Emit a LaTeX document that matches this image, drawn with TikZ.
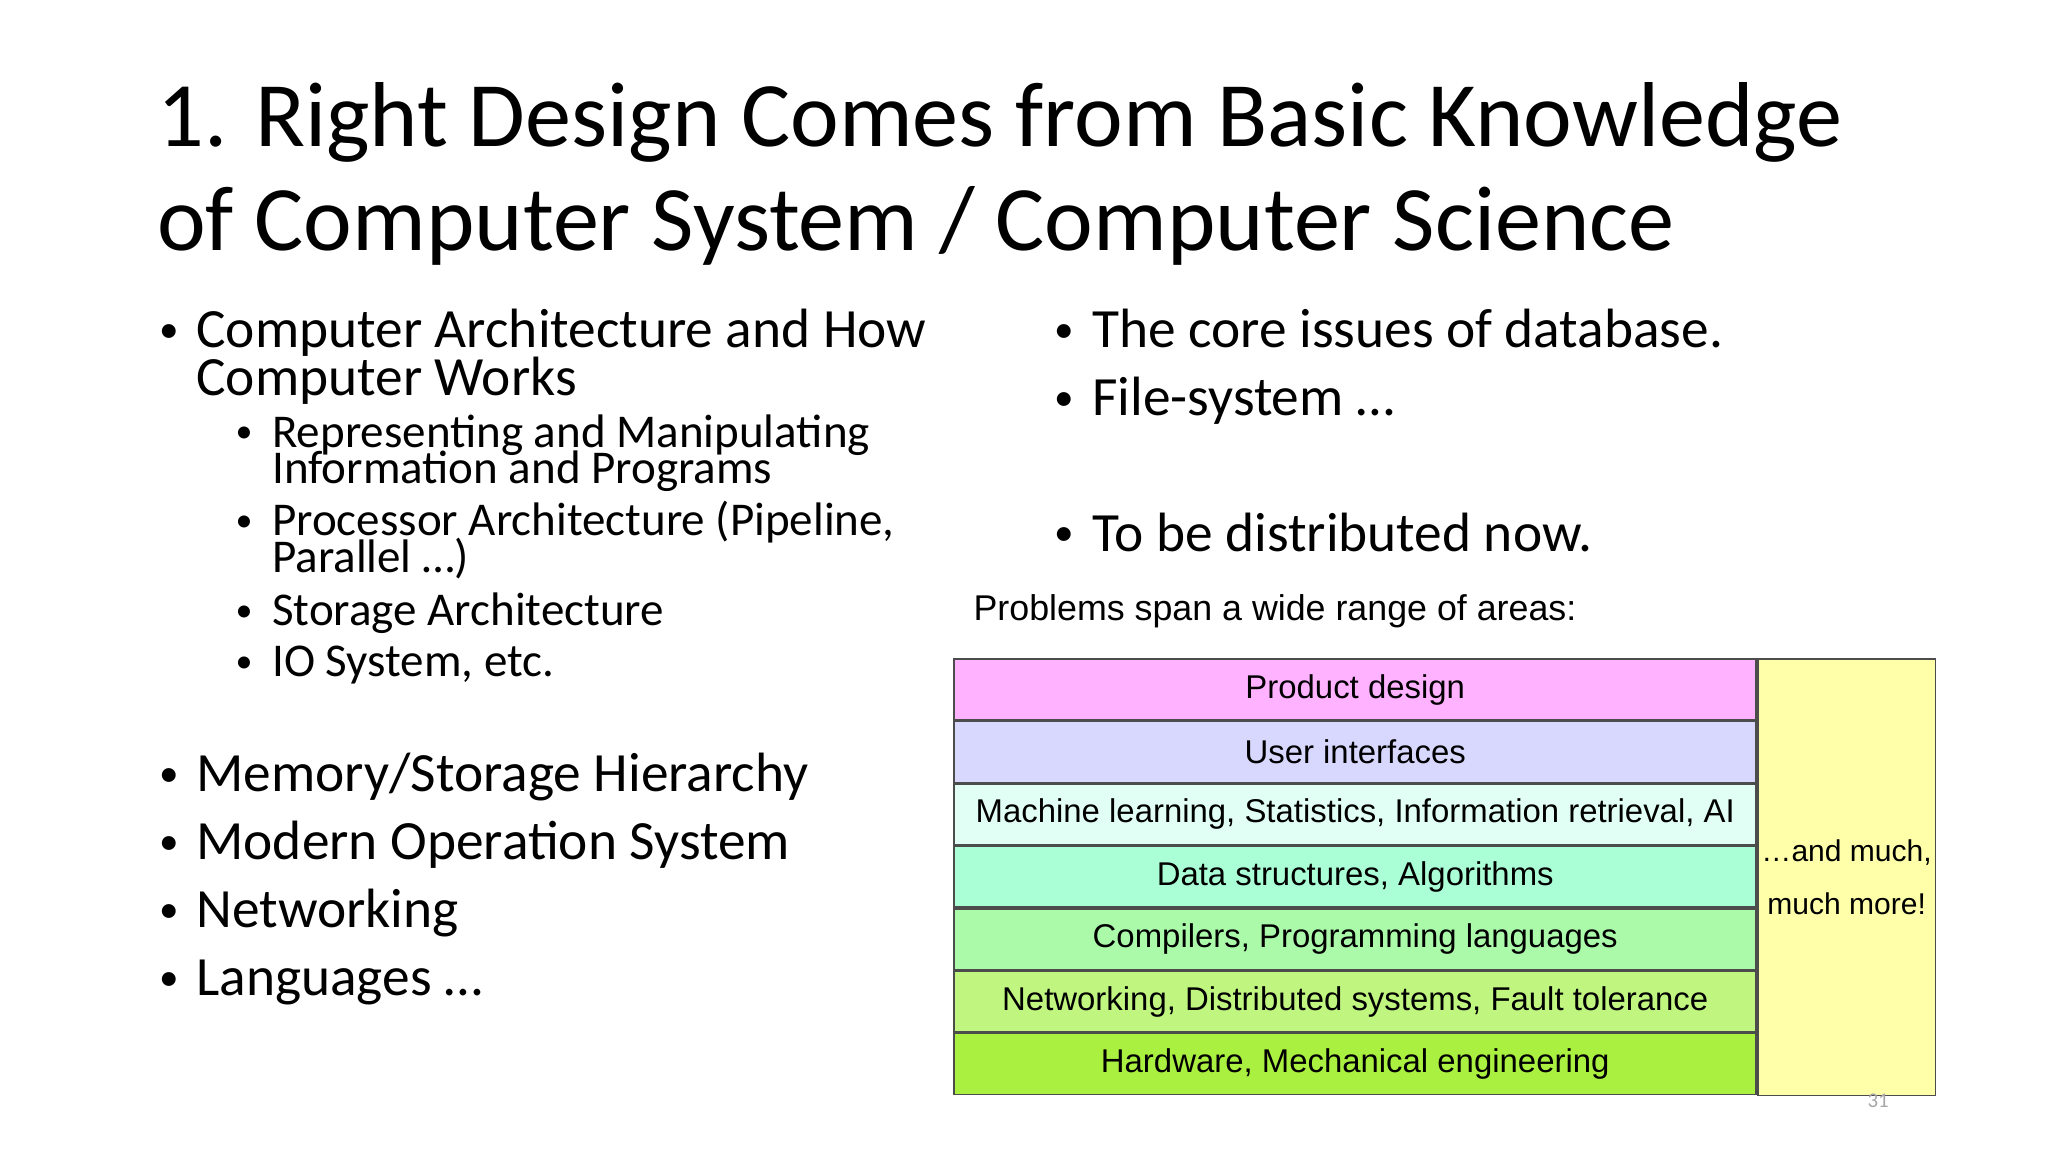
\documentclass[tikz,border=0pt]{standalone}
\usepackage{fontspec}
\setmainfont{Carlito}
\newfontfamily\arial{Liberation Sans}
\begin{document}
\begin{tikzpicture}[x=0.5pt,y=-0.5pt,
  t1/.style={anchor=base west,font=\fontsize{21.2}{18.5}\selectfont,inner sep=0},
  t2/.style={anchor=base west,font=\fontsize{18}{15}\selectfont,inner sep=0},
  d1/.style={anchor=base west,font=\fontsize{15}{15}\selectfont,inner sep=0,yshift=2pt},
  d2/.style={anchor=base west,font=\fontsize{13}{13}\selectfont,inner sep=0,yshift=1.5pt},
  row/.style={draw=black!70,line width=0.6pt,minimum width=307pt,minimum height=23.3pt,inner sep=0,font=\arial\fontsize{12.6}{13}\selectfont,anchor=north west}]
\useasboundingbox (0,0) rectangle (1568,882);
\fill[white] (0,0) rectangle (1568,882);
\node[anchor=base west,inner sep=0,font=\fontsize{35.3}{40}\selectfont,align=left] (title) at (120,192) {1. Right Design Comes from Basic Knowledge\\of Computer System / Computer Science};
% left column
\node[d1] (b1) at (122,266) {•};
\node[t1,align=left] (b1t) at (150,303) {Computer Architecture and How\\Computer Works};
\node[d2] (s1) at (180,342) {•};
\node[t2,align=left] (s1t) at (208,370) {Representing and Manipulating\\[-3pt]Information and Programs};
\node[d2] (s2) at (180,410) {•};
\node[t2,align=left] (s2t) at (208,438) {Processor Architecture (Pipeline,\\[-3pt]Parallel …)};
\node[d2] (s3) at (180,479) {•};
\node[t2] (s3t) at (208,479) {Storage Architecture};
\node[d2] (s4) at (180,518) {•};
\node[t2] (s4t) at (208,518) {IO System, etc.};
\foreach \y/\txt [count=\i] in {606/{Memory/Storage Hierarchy},658/{Modern Operation System},710/{Networking},762/{Languages …}}{
  \node[d1] (m\i) at (122,\y) {•};
  \node[t1] (mt\i) at (150,\y) {\txt};
}
% right column
\node[d1] (r1) at (807,266) {•};
\node[t1] (r1t) at (836,266) {The core issues of database.};
\node[d1] (r2) at (807,318) {•};
\node[t1] (r2t) at (836,318) {File-system …};
\node[d1] (r3) at (807,422) {•};
\node[t1] (r3t) at (836,422) {To be distributed now.};
\node[anchor=base west,inner sep=0,font=\arial\fontsize{13.7}{14}\selectfont] (cap) at (745,475) {Problems span a wide range of areas:};
% table
\node[row,fill={rgb,255:red,255;green,178;blue,255}] (p1) at (730,504) {Product design};
\node[row,fill={rgb,255:red,216;green,216;blue,255}] (p2) at (p1.south west) {User interfaces};
\node[row,fill={rgb,255:red,226;green,255;blue,246}] (p3) at (p2.south west) {Machine learning, Statistics, Information retrieval, AI};
\node[row,fill={rgb,255:red,170;green,255;blue,214}] (p4) at (p3.south west) {Data structures, Algorithms};
\node[row,fill={rgb,255:red,170;green,250;blue,170}] (p5) at (p4.south west) {Compilers, Programming languages};
\node[row,fill={rgb,255:red,192;green,246;blue,128}] (p6) at (p5.south west) {Networking, Distributed systems, Fault tolerance};
\node[row,fill={rgb,255:red,170;green,240;blue,64}] (p7) at (p6.south west) {Hardware, Mechanical engineering};
\node[draw=black!70,line width=0.6pt,fill={rgb,255:red,255;green,255;blue,170},anchor=north west,minimum width=68pt,minimum height=167pt,inner sep=0,align=center,font=\arial\fontsize{11.5}{20}\selectfont] (more) at (p1.north east) {…and much,\\much more!};
\node[anchor=base,inner sep=0,text=black!35,font=\fontsize{8}{9}\selectfont] (pg) at (1438,848) {31};
\end{tikzpicture}
\end{document}
